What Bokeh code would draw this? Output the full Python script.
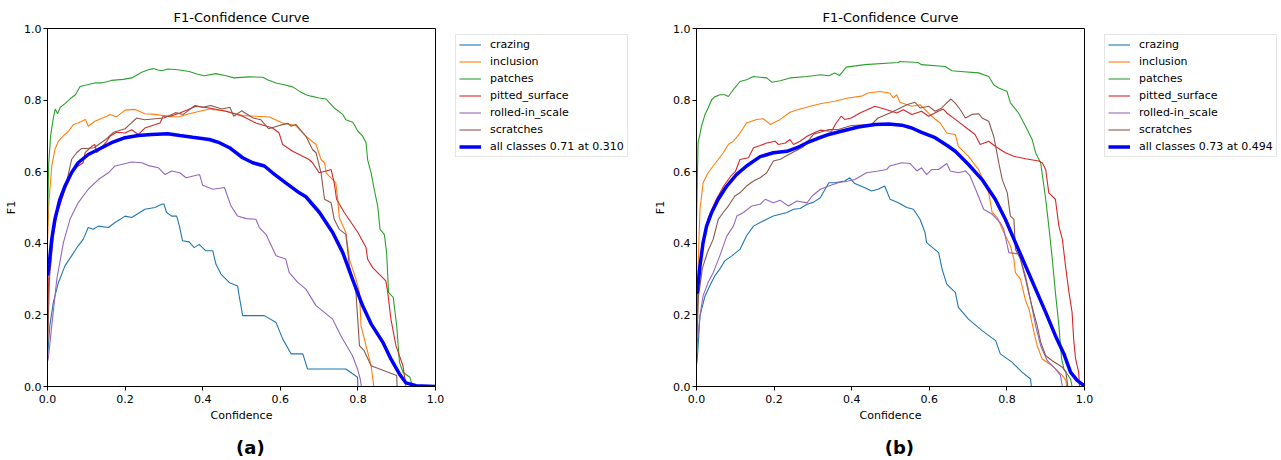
from bokeh.plotting import figure
from bokeh.models import Range1d, FixedTicker, PrintfTickFormatter, Legend, LegendItem, LinearAxis
from bokeh.layouts import row
from bokeh.embed import file_html
from bokeh.resources import INLINE

CLASS_NAMES = ["crazing", "inclusion", "patches", "pitted_surface", "rolled-in_scale", "scratches"]
COLORS = ["#1f77b4", "#ff7f0e", "#2ca02c", "#d62728", "#9467bd", "#8c564b"]
TICKS = [0.0, 0.2, 0.4, 0.6, 0.8, 1.0]
TAG_POS = 0.523
FONT = "DejaVu Sans"

# ---------------- panel (a) ----------------
a_crazing = [(0, 0.08), (0.006, 0.17), (0.015, 0.235), (0.028, 0.29), (0.045, 0.337), (0.062, 0.365),
             (0.079, 0.393), (0.092, 0.411), (0.105, 0.444), (0.118, 0.439), (0.131, 0.448), (0.157, 0.444),
             (0.174, 0.458), (0.2, 0.476), (0.217, 0.472), (0.251, 0.495), (0.277, 0.5), (0.294, 0.509),
             (0.3, 0.51), (0.307, 0.486), (0.32, 0.476), (0.333, 0.476), (0.34, 0.448), (0.348, 0.407),
             (0.365, 0.404), (0.378, 0.388), (0.391, 0.397), (0.408, 0.379), (0.426, 0.379), (0.434, 0.342),
             (0.447, 0.314), (0.469, 0.29), (0.49, 0.281), (0.494, 0.253), (0.503, 0.198), (0.559, 0.198),
             (0.589, 0.179), (0.606, 0.133), (0.628, 0.091), (0.658, 0.091), (0.67, 0.049), (0.769, 0.049),
             (0.799, 0.026), (0.8, 0.0), (1.0, 0.0)]
a_inclusion = [(0, 0.4), (0.004, 0.52), (0.011, 0.616), (0.019, 0.662), (0.028, 0.685), (0.041, 0.7),
               (0.054, 0.713), (0.067, 0.732), (0.079, 0.736), (0.088, 0.741), (0.098, 0.746), (0.105, 0.727),
               (0.122, 0.741), (0.153, 0.755), (0.161, 0.76), (0.178, 0.753), (0.2, 0.772), (0.226, 0.774),
               (0.251, 0.762), (0.277, 0.76), (0.311, 0.755), (0.337, 0.753), (0.365, 0.762), (0.417, 0.775),
               (0.46, 0.769), (0.503, 0.757), (0.537, 0.755), (0.572, 0.753), (0.606, 0.736), (0.64, 0.729),
               (0.666, 0.699), (0.692, 0.676), (0.705, 0.634), (0.714, 0.625), (0.718, 0.597), (0.735, 0.578),
               (0.743, 0.569), (0.748, 0.523), (0.752, 0.472), (0.769, 0.43), (0.778, 0.356), (0.795, 0.3),
               (0.804, 0.263), (0.808, 0.17), (0.821, 0.114), (0.834, 0.058), (0.841, 0.0), (1.0, 0.0)]
a_patches = [(0, 0.45), (0.003, 0.62), (0.008, 0.7), (0.015, 0.75), (0.02, 0.775), (0.026, 0.762),
             (0.033, 0.78), (0.045, 0.79), (0.06, 0.805), (0.072, 0.815), (0.084, 0.838), (0.1, 0.842),
             (0.122, 0.848), (0.14, 0.848), (0.165, 0.855), (0.195, 0.858), (0.217, 0.862), (0.243, 0.878),
             (0.26, 0.885), (0.273, 0.888), (0.285, 0.884), (0.294, 0.882), (0.31, 0.887), (0.32, 0.886),
             (0.341, 0.884), (0.365, 0.88), (0.385, 0.873), (0.404, 0.868), (0.434, 0.874), (0.46, 0.868),
             (0.481, 0.862), (0.52, 0.865), (0.555, 0.864), (0.567, 0.857), (0.589, 0.848), (0.61, 0.843),
             (0.632, 0.837), (0.649, 0.825), (0.666, 0.815), (0.679, 0.811), (0.7, 0.806), (0.718, 0.803),
             (0.739, 0.778), (0.761, 0.76), (0.769, 0.745), (0.787, 0.738), (0.8, 0.713), (0.812, 0.7),
             (0.821, 0.681), (0.825, 0.634), (0.834, 0.597), (0.842, 0.551), (0.851, 0.504), (0.857, 0.439),
             (0.868, 0.425), (0.874, 0.374), (0.879, 0.263), (0.891, 0.249), (0.9, 0.17), (0.907, 0.068),
             (0.916, 0.04), (0.934, 0.026), (0.94, 0.003), (1.0, 0.0)]
a_pitted = [(0, 0.12), (0.003, 0.3), (0.01, 0.4), (0.02, 0.47), (0.03, 0.5), (0.045, 0.55), (0.065, 0.6),
            (0.079, 0.616), (0.092, 0.625), (0.097, 0.653), (0.114, 0.671), (0.122, 0.676), (0.127, 0.653),
            (0.153, 0.685), (0.161, 0.699), (0.178, 0.71), (0.2, 0.708), (0.217, 0.717), (0.234, 0.704),
            (0.251, 0.722), (0.29, 0.736), (0.298, 0.755), (0.316, 0.755), (0.341, 0.764), (0.383, 0.783),
            (0.417, 0.778), (0.46, 0.769), (0.503, 0.755), (0.537, 0.736), (0.58, 0.722), (0.597, 0.708),
            (0.606, 0.676), (0.632, 0.657), (0.674, 0.634), (0.683, 0.625), (0.7, 0.597), (0.718, 0.602),
            (0.731, 0.606), (0.739, 0.569), (0.745, 0.523), (0.765, 0.486), (0.8, 0.43), (0.821, 0.388),
            (0.825, 0.356), (0.838, 0.332), (0.872, 0.295), (0.877, 0.263), (0.885, 0.189), (0.898, 0.114),
            (0.916, 0.058), (0.924, 0.0), (1.0, 0.0)]
a_rolled = [(0, 0.07), (0.002, 0.077), (0.011, 0.17), (0.024, 0.3), (0.041, 0.402), (0.058, 0.467),
            (0.079, 0.513), (0.105, 0.551), (0.131, 0.578), (0.157, 0.597), (0.174, 0.616), (0.191, 0.62),
            (0.217, 0.627), (0.243, 0.625), (0.26, 0.617), (0.286, 0.611), (0.303, 0.592), (0.32, 0.602),
            (0.341, 0.597), (0.357, 0.583), (0.392, 0.592), (0.4, 0.562), (0.426, 0.551), (0.456, 0.556),
            (0.473, 0.504), (0.49, 0.476), (0.512, 0.469), (0.537, 0.467), (0.546, 0.444), (0.563, 0.425),
            (0.589, 0.365), (0.614, 0.356), (0.623, 0.318), (0.645, 0.291), (0.666, 0.272), (0.692, 0.226),
            (0.735, 0.188), (0.756, 0.142), (0.786, 0.086), (0.799, 0.049), (0.806, 0.021), (0.809, 0.0),
            (1.0, 0.0)]
a_scratches = [(0, 0.1), (0.005, 0.3), (0.015, 0.42), (0.028, 0.504), (0.041, 0.541), (0.049, 0.569),
               (0.062, 0.634), (0.075, 0.653), (0.088, 0.665), (0.1, 0.665), (0.12, 0.667), (0.15, 0.69),
               (0.17, 0.71), (0.2, 0.72), (0.21, 0.73), (0.23, 0.75), (0.25, 0.745), (0.3, 0.75),
               (0.33, 0.765), (0.35, 0.76), (0.38, 0.785), (0.4, 0.78), (0.42, 0.785), (0.45, 0.775),
               (0.47, 0.78), (0.48, 0.755), (0.5, 0.77), (0.53, 0.75), (0.55, 0.745), (0.57, 0.72),
               (0.6, 0.73), (0.62, 0.735), (0.628, 0.727), (0.64, 0.732), (0.666, 0.699), (0.683, 0.662),
               (0.692, 0.653), (0.705, 0.597), (0.714, 0.523), (0.731, 0.513), (0.739, 0.467), (0.752, 0.439),
               (0.769, 0.425), (0.778, 0.337), (0.795, 0.263), (0.804, 0.114), (0.816, 0.1), (0.834, 0.058),
               (0.9, 0.031), (0.901, 0.0), (1.0, 0.0)]
a_all = [(0, 0.31), (0.004, 0.34), (0.011, 0.412), (0.019, 0.467), (0.032, 0.523), (0.045, 0.56),
         (0.062, 0.597), (0.079, 0.625), (0.105, 0.648), (0.131, 0.662), (0.165, 0.681), (0.2, 0.695),
         (0.234, 0.701), (0.268, 0.704), (0.31, 0.706), (0.341, 0.701), (0.374, 0.696), (0.417, 0.69),
         (0.443, 0.681), (0.469, 0.667), (0.503, 0.639), (0.529, 0.625), (0.559, 0.616), (0.58, 0.597),
         (0.614, 0.569), (0.649, 0.541), (0.666, 0.53), (0.701, 0.486), (0.735, 0.43), (0.761, 0.374),
         (0.786, 0.3), (0.812, 0.226), (0.834, 0.175), (0.864, 0.124), (0.885, 0.077), (0.907, 0.035),
         (0.924, 0.01), (0.95, 0.002), (1.0, 0.0)]
a_all_label = "all classes 0.71 at 0.310"
a_tag = "(a)"

# ---------------- panel (b) ----------------
b_crazing = [(0, 0.06), (0.002, 0.077), (0.009, 0.198), (0.022, 0.253), (0.034, 0.281), (0.047, 0.309),
             (0.06, 0.328), (0.073, 0.351), (0.091, 0.365), (0.112, 0.383), (0.129, 0.421), (0.147, 0.448),
             (0.164, 0.458), (0.181, 0.467), (0.198, 0.476), (0.216, 0.481), (0.233, 0.486), (0.25, 0.495),
             (0.267, 0.497), (0.285, 0.509), (0.302, 0.515), (0.319, 0.527), (0.341, 0.569), (0.356, 0.569),
             (0.382, 0.574), (0.395, 0.583), (0.408, 0.567), (0.434, 0.555), (0.451, 0.546), (0.468, 0.551),
             (0.485, 0.56), (0.499, 0.523), (0.52, 0.513), (0.542, 0.5), (0.559, 0.495), (0.576, 0.467),
             (0.589, 0.43), (0.593, 0.402), (0.624, 0.374), (0.633, 0.328), (0.645, 0.286), (0.658, 0.272),
             (0.667, 0.263), (0.675, 0.221), (0.701, 0.188), (0.736, 0.156), (0.771, 0.128), (0.783, 0.091),
             (0.813, 0.068), (0.839, 0.04), (0.861, 0.021), (0.863, 0.0), (1.0, 0.0)]
b_inclusion = [(0, 0.2), (0.002, 0.263), (0.009, 0.495), (0.017, 0.569), (0.03, 0.597), (0.043, 0.616),
               (0.056, 0.634), (0.069, 0.653), (0.082, 0.676), (0.095, 0.685), (0.112, 0.708), (0.129, 0.736),
               (0.142, 0.741), (0.155, 0.746), (0.172, 0.748), (0.19, 0.732), (0.216, 0.746), (0.241, 0.766),
               (0.267, 0.775), (0.293, 0.783), (0.319, 0.79), (0.341, 0.794), (0.356, 0.797), (0.391, 0.806),
               (0.425, 0.811), (0.442, 0.82), (0.473, 0.824), (0.498, 0.82), (0.507, 0.806), (0.516, 0.815),
               (0.524, 0.794), (0.555, 0.783), (0.576, 0.787), (0.606, 0.755), (0.628, 0.736), (0.645, 0.708),
               (0.667, 0.704), (0.675, 0.671), (0.701, 0.643), (0.727, 0.606), (0.753, 0.541), (0.762, 0.486),
               (0.775, 0.472), (0.792, 0.43), (0.809, 0.393), (0.818, 0.356), (0.822, 0.318), (0.835, 0.3),
               (0.848, 0.24), (0.857, 0.216), (0.87, 0.151), (0.878, 0.114), (0.891, 0.077), (0.917, 0.058),
               (0.943, 0.031), (0.952, 0.017), (0.954, 0.0), (1.0, 0.0)]
b_patches = [(0, 0.45), (0.004, 0.68), (0.013, 0.727), (0.022, 0.76), (0.03, 0.778), (0.039, 0.801),
             (0.047, 0.809), (0.06, 0.815), (0.073, 0.815), (0.082, 0.81), (0.095, 0.829), (0.112, 0.852),
             (0.129, 0.857), (0.147, 0.866), (0.164, 0.864), (0.181, 0.862), (0.194, 0.85), (0.216, 0.854),
             (0.241, 0.862), (0.285, 0.866), (0.319, 0.871), (0.341, 0.868), (0.356, 0.876), (0.369, 0.869),
             (0.386, 0.892), (0.434, 0.899), (0.52, 0.905), (0.524, 0.908), (0.571, 0.905), (0.58, 0.899),
             (0.641, 0.894), (0.658, 0.882), (0.68, 0.88), (0.727, 0.876), (0.753, 0.866), (0.766, 0.843),
             (0.779, 0.834), (0.8, 0.825), (0.809, 0.792), (0.83, 0.764), (0.848, 0.727), (0.865, 0.69),
             (0.874, 0.653), (0.887, 0.625), (0.893, 0.578), (0.9, 0.523), (0.908, 0.448), (0.917, 0.356),
             (0.925, 0.263), (0.934, 0.17), (0.941, 0.077), (0.947, 0.049), (0.964, 0.021), (0.968, 0.0),
             (1.0, 0.0)]
b_pitted = [(0, 0.13), (0.005, 0.3), (0.015, 0.4), (0.03, 0.47), (0.05, 0.52), (0.07, 0.56), (0.09, 0.59),
            (0.1, 0.6), (0.112, 0.634), (0.134, 0.639), (0.147, 0.667), (0.164, 0.673), (0.181, 0.68),
            (0.203, 0.685), (0.211, 0.676), (0.229, 0.68), (0.241, 0.69), (0.25, 0.676), (0.267, 0.685),
            (0.285, 0.699), (0.302, 0.708), (0.319, 0.716), (0.348, 0.713), (0.36, 0.736), (0.373, 0.755),
            (0.382, 0.746), (0.399, 0.75), (0.421, 0.764), (0.46, 0.783), (0.503, 0.769), (0.516, 0.764),
            (0.533, 0.773), (0.555, 0.76), (0.58, 0.769), (0.598, 0.755), (0.623, 0.769), (0.636, 0.775),
            (0.645, 0.764), (0.667, 0.746), (0.701, 0.718), (0.718, 0.704), (0.731, 0.676), (0.753, 0.685),
            (0.77, 0.671), (0.796, 0.653), (0.818, 0.643), (0.848, 0.636), (0.882, 0.63), (0.891, 0.625),
            (0.9, 0.606), (0.908, 0.541), (0.925, 0.523), (0.934, 0.448), (0.943, 0.411), (0.951, 0.337),
            (0.96, 0.263), (0.968, 0.207), (0.972, 0.133), (0.977, 0.077), (0.985, 0.04), (0.987, 0.0),
            (1.0, 0.0)]
b_rolled = [(0, 0.08), (0.002, 0.123), (0.009, 0.198), (0.017, 0.253), (0.03, 0.291), (0.043, 0.318),
            (0.06, 0.365), (0.078, 0.42), (0.095, 0.448), (0.104, 0.476), (0.121, 0.486), (0.142, 0.504),
            (0.164, 0.509), (0.177, 0.523), (0.198, 0.513), (0.216, 0.52), (0.237, 0.504), (0.259, 0.518),
            (0.285, 0.513), (0.298, 0.532), (0.319, 0.551), (0.341, 0.56), (0.365, 0.569), (0.391, 0.574),
            (0.408, 0.578), (0.438, 0.597), (0.468, 0.602), (0.49, 0.606), (0.498, 0.616), (0.529, 0.625),
            (0.55, 0.623), (0.568, 0.602), (0.58, 0.611), (0.593, 0.592), (0.606, 0.606), (0.624, 0.606),
            (0.645, 0.623), (0.654, 0.602), (0.675, 0.597), (0.693, 0.602), (0.705, 0.588), (0.723, 0.541),
            (0.74, 0.495), (0.762, 0.481), (0.783, 0.458), (0.792, 0.439), (0.805, 0.374), (0.831, 0.37),
            (0.848, 0.309), (0.862, 0.235), (0.874, 0.17), (0.887, 0.114), (0.904, 0.072), (0.925, 0.049),
            (0.938, 0.031), (0.943, 0.0), (1.0, 0.0)]
b_scratches = [(0, 0.1), (0.005, 0.25), (0.015, 0.33), (0.03, 0.38), (0.043, 0.411), (0.056, 0.467),
               (0.069, 0.486), (0.082, 0.504), (0.099, 0.532), (0.112, 0.541), (0.129, 0.56), (0.147, 0.574),
               (0.164, 0.583), (0.181, 0.597), (0.198, 0.63), (0.216, 0.635), (0.233, 0.645), (0.25, 0.655),
               (0.276, 0.67), (0.302, 0.705), (0.319, 0.71), (0.341, 0.718), (0.365, 0.718), (0.399, 0.729),
               (0.451, 0.732), (0.468, 0.75), (0.503, 0.766), (0.516, 0.773), (0.542, 0.787), (0.563, 0.794),
               (0.576, 0.778), (0.598, 0.783), (0.615, 0.769), (0.632, 0.778), (0.645, 0.792), (0.656, 0.803),
               (0.668, 0.79), (0.68, 0.773), (0.693, 0.75), (0.71, 0.76), (0.727, 0.762), (0.736, 0.75),
               (0.753, 0.741), (0.766, 0.699), (0.771, 0.671), (0.779, 0.625), (0.788, 0.578), (0.801, 0.541),
               (0.809, 0.476), (0.818, 0.467), (0.822, 0.383), (0.835, 0.356), (0.848, 0.3), (0.862, 0.235),
               (0.878, 0.17), (0.887, 0.124), (0.9, 0.086), (0.917, 0.072), (0.943, 0.054), (0.952, 0.04),
               (0.957, 0.0), (1.0, 0.0)]
b_all = [(0, 0.26), (0.002, 0.263), (0.009, 0.337), (0.017, 0.402), (0.026, 0.448), (0.039, 0.486),
         (0.056, 0.523), (0.078, 0.56), (0.103, 0.592), (0.129, 0.616), (0.164, 0.642), (0.198, 0.653),
         (0.233, 0.657), (0.259, 0.667), (0.285, 0.681), (0.31, 0.692), (0.341, 0.704), (0.373, 0.713),
         (0.417, 0.725), (0.46, 0.732), (0.495, 0.733), (0.529, 0.73), (0.555, 0.722), (0.58, 0.71),
         (0.615, 0.695), (0.649, 0.671), (0.667, 0.657), (0.701, 0.62), (0.736, 0.578), (0.77, 0.523),
         (0.796, 0.467), (0.822, 0.402), (0.848, 0.337), (0.874, 0.272), (0.9, 0.207), (0.925, 0.142),
         (0.947, 0.091), (0.964, 0.04), (0.981, 0.017), (0.998, 0.003), (1.0, 0.0)]
b_all_label = "all classes 0.73 at 0.494"
b_tag = "(b)"


def make_plot(curves, all_curve, tag):
    p = figure(width=445, height=460, min_border_left=47, min_border_right=10,
               min_border_top=28, min_border_bottom=74, x_range=Range1d(0, 1), y_range=Range1d(0, 1),
               output_backend="svg", toolbar_location=None, title="F1-Confidence Curve")
    p.background_fill_color = "white"
    p.border_fill_color = "white"
    p.outline_line_color = "black"
    p.outline_line_width = 1
    p.xgrid.visible = False
    p.ygrid.visible = False

    p.title.align = "center"
    p.title.text_font = FONT
    p.title.text_font_size = "13px"
    p.title.text_font_style = "normal"
    p.title.text_color = "black"
    p.title.standoff = 7

    for ax, lab in ((p.xaxis[0], "Confidence"), (p.yaxis[0], "F1")):
        ax.ticker = FixedTicker(ticks=TICKS)
        ax.formatter = PrintfTickFormatter(format="%.1f")
        ax.axis_label = lab
        ax.axis_label_text_font = FONT
        ax.axis_label_text_font_size = "11px"
        ax.axis_label_text_font_style = "normal"
        ax.axis_label_text_color = "black"
        ax.major_label_text_font = FONT
        ax.major_label_text_font_size = "11px"
        ax.major_label_text_color = "black"
        ax.major_tick_in = 0
        ax.major_tick_out = 4
        ax.major_tick_line_color = "black"
        ax.minor_tick_line_color = None
        ax.axis_line_color = "black"
        ax.axis_label_standoff = 3
    p.xaxis[0].major_label_standoff = 4
    p.yaxis[0].major_label_standoff = 2

    # second, label-only axis below, carrying the sub-figure tag as its single tick label
    tag_axis = LinearAxis(ticker=FixedTicker(ticks=[TAG_POS]), major_label_overrides={TAG_POS: tag},
                          axis_line_color=None, major_tick_line_color=None, minor_tick_line_color=None,
                          major_tick_in=0, major_tick_out=0, minor_tick_in=0, minor_tick_out=0,
                          major_label_standoff=12,
                          major_label_text_font=FONT, major_label_text_font_size="18px",
                          major_label_text_font_style="bold", major_label_text_color="black")
    p.add_layout(tag_axis, "below")

    for color, pts in zip(COLORS, curves):
        p.line([q[0] for q in pts], [q[1] for q in pts], line_color=color, line_width=1.1)
    p.line([q[0] for q in all_curve], [q[1] for q in all_curve], line_color="#0000ff", line_width=3.5)
    return p


def make_legend(curves, all_curve, all_label, fig_width):
    # legend-only figure: its ranges keep the series out of view, only the legend shows
    lf = figure(width=fig_width, height=460, min_border=0, x_axis_location=None, y_axis_location=None,
                x_range=Range1d(5, 6), y_range=Range1d(5, 6), output_backend="svg", toolbar_location=None)
    lf.outline_line_color = None
    lf.xgrid.visible = False
    lf.ygrid.visible = False
    lf.background_fill_color = "white"
    lf.border_fill_color = "white"
    items = []
    for name, color, pts in zip(CLASS_NAMES, COLORS, curves):
        r = lf.line([q[0] for q in pts], [q[1] for q in pts], line_color=color, line_width=1.1)
        items.append(LegendItem(label=name, renderers=[r]))
    r = lf.line([q[0] for q in all_curve], [q[1] for q in all_curve], line_color="#0000ff", line_width=3.5)
    items.append(LegendItem(label=all_label, renderers=[r]))

    legend = Legend(items=items, location=(10, 229))
    legend.label_text_font = FONT
    legend.label_text_font_size = "11px"
    legend.label_text_color = "black"
    legend.glyph_width = 22
    legend.glyph_height = 13
    legend.label_height = 13
    legend.label_standoff = 9
    legend.spacing = 4
    legend.padding = 3
    legend.margin = 0
    legend.border_line_color = "#cccccc"
    legend.border_line_width = 1
    legend.background_fill_color = "white"
    legend.background_fill_alpha = 1
    lf.add_layout(legend, "center")
    return lf


a_curves = [a_crazing, a_inclusion, a_patches, a_pitted, a_rolled, a_scratches]
b_curves = [b_crazing, b_inclusion, b_patches, b_pitted, b_rolled, b_scratches]

pa = make_plot(a_curves, a_all, a_tag)
la = make_legend(a_curves, a_all, a_all_label, 204)
pb = make_plot(b_curves, b_all, b_tag)
lb = make_legend(b_curves, b_all, b_all_label, 187)

layout = row(pa, la, pb, lb)
open("out.html", "w").write(file_html(layout, INLINE))
